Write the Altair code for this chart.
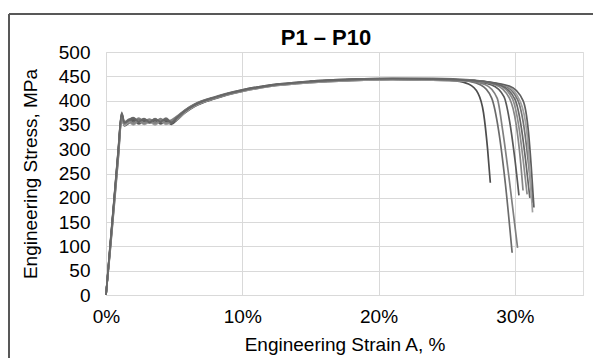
import altair as alt
import pandas as pd

TITLE = "P1 – P10"
SPECIMENS = ["P1", "P2", "P3", "P4", "P5", "P6", "P7", "P8", "P9", "P10"]
GREYS = ["#4d4d4d", "#6b6b6b", "#808080", "#595959", "#8c8c8c",
         "#737373", "#a0a0a0", "#5e5e5e", "#858585", "#666666"]

# shared strain grid (%) for the elastic / plateau / hardening part
STRAIN_BASE = [0, 0.3, 0.6, 0.9, 1.15, 1.35, 1.7, 2.0, 2.4, 2.8, 3.2, 3.6, 4.0,
               4.4, 4.8, 5.2, 5.8, 6.5, 8, 10, 12, 15, 18, 21, 24]

STRESS_BASE = [
    [0, 98, 196, 295, 372, 352, 360, 355, 362, 356, 360, 354, 361, 355, 358, 366, 380, 392, 407, 421, 431, 439, 443, 445, 444],
    [0, 92, 188, 285, 365, 350, 356, 362, 354, 360, 357, 363, 355, 359, 353, 362, 377, 389, 405, 420, 430, 438, 442, 444, 443],
    [0, 102, 200, 300, 376, 355, 362, 357, 364, 358, 362, 356, 363, 357, 360, 368, 381, 393, 408, 422, 432, 440, 444, 446, 445],
    [0, 95, 192, 290, 368, 348, 354, 359, 352, 358, 355, 360, 352, 357, 351, 360, 375, 388, 404, 419, 429, 437, 441, 443, 442],
    [0, 88, 182, 280, 362, 351, 358, 353, 360, 354, 359, 352, 360, 353, 357, 364, 378, 390, 406, 420, 430, 438, 442, 444, 443],
    [0, 100, 198, 298, 374, 356, 361, 365, 358, 363, 357, 362, 358, 364, 356, 366, 380, 392, 407, 422, 432, 440, 444, 446, 446],
    [0, 90, 186, 283, 366, 349, 355, 350, 357, 351, 356, 350, 357, 351, 355, 361, 376, 389, 405, 419, 429, 437, 441, 443, 442],
    [0, 96, 194, 292, 370, 353, 359, 363, 356, 361, 354, 360, 356, 361, 354, 363, 378, 391, 406, 421, 431, 439, 443, 445, 444],
    [0, 94, 190, 288, 368, 352, 357, 352, 359, 353, 358, 353, 359, 354, 356, 364, 379, 391, 406, 420, 430, 438, 442, 444, 443],
    [0, 99, 197, 296, 373, 354, 360, 364, 357, 362, 356, 361, 357, 362, 355, 365, 379, 391, 407, 421, 431, 439, 443, 445, 444],
]

# necking and fracture part of each curve
TAIL_STRAIN = [
    [25.5, 26.6, 27.3, 27.7, 28.0, 28.2],
    [26.0, 27.5, 28.3, 28.8, 29.3, 29.8],
    [26.0, 27.8, 28.7, 29.1, 29.6, 30.2],
    [26.5, 28.3, 29.2, 29.6, 30.0, 30.3],
    [27.0, 28.8, 29.8, 30.3, 30.6, 30.9],
    [27.0, 29.2, 30.2, 30.7, 31.0, 31.3],
    [27.0, 29.4, 30.4, 30.9, 31.1, 31.3],
    [27.0, 29.6, 30.6, 31.0, 31.2, 31.4],
    [26.5, 28.6, 29.6, 30.1, 30.4, 30.6],
    [27.0, 29.0, 30.0, 30.5, 30.8, 31.1],
]
TAIL_STRESS = [
    [441, 434, 415, 375, 300, 231],
    [442, 432, 405, 340, 230, 87],
    [442, 433, 405, 340, 235, 97],
    [441, 432, 408, 360, 280, 205],
    [441, 432, 405, 345, 280, 207],
    [442, 431, 402, 340, 270, 190],
    [440, 430, 398, 330, 250, 170],
    [441, 430, 400, 335, 265, 180],
    [442, 432, 405, 350, 280, 215],
    [441, 431, 403, 340, 275, 200],
]

X_TICKS = [0, 0.1, 0.2, 0.3]
Y_TICKS = list(range(0, 501, 50))

rows = []
for s, name in enumerate(SPECIMENS):
    xs = STRAIN_BASE + TAIL_STRAIN[s]
    ys = STRESS_BASE[s] + TAIL_STRESS[s]
    for i, (x, y) in enumerate(zip(xs, ys)):
        rows.append({"spec": name, "strain": x / 100.0, "stress": y, "idx": i})
df = pd.DataFrame(rows)

FONT = "Liberation Sans"

lines = alt.Chart(df).mark_line(strokeWidth=1.7, interpolate="monotone").encode(
    x=alt.X("strain:Q",
            scale=alt.Scale(domain=[0, 0.35], nice=False),
            axis=alt.Axis(values=X_TICKS, format=".0%", title="Engineering Strain A, %",
                          grid=True, gridColor="#d9d9d9", domainColor="#d9d9d9",
                          ticks=False, labelPadding=12, labelFontSize=19, labelFlush=False,
                          titleFontSize=19, titleFontWeight="normal",
                          titleY=55, titleBaseline="alphabetic")),
    y=alt.Y("stress:Q",
            scale=alt.Scale(domain=[0, 500], nice=False),
            axis=alt.Axis(values=Y_TICKS, title="Engineering Stress, MPa",
                          grid=True, gridColor="#d9d9d9", domain=False,
                          ticks=False, labelPadding=16, labelFontSize=19, labelFlush=False,
                          titleFontSize=19, titleFontWeight="normal",
                          titleX=-70, titleY=121.5, titleAngle=-90,
                          titleBaseline="alphabetic", titleAlign="center")),
    color=alt.Color("spec:N", scale=alt.Scale(domain=SPECIMENS, range=GREYS), legend=None),
    detail="spec:N",
    order=alt.Order("idx:Q"),
)

title_text = alt.Chart(pd.DataFrame({"t": [TITLE]})).mark_text(
    font=FONT, fontSize=22, fontWeight="bold", color="#000000",
    align="center", baseline="alphabetic",
).encode(x=alt.value(220), y=alt.value(-7), text="t:N")

border_left = alt.Chart(df).mark_rule(color="#595959", strokeWidth=1.5).encode(
    x=alt.value(-97), y=alt.value(-38), y2=alt.value(330))
border_top = alt.Chart(df).mark_rule(color="#595959", strokeWidth=1.5).encode(
    x=alt.value(-97), x2=alt.value(520), y=alt.value(-38))

chart = alt.layer(lines, title_text, border_left, border_top).properties(
    width=477, height=243,
    autosize=alt.AutoSizeParams(type="none"),
    padding={"left": 98, "top": 44, "right": 10, "bottom": 63},
).configure_view(stroke=None).configure_axis(
    labelFont=FONT, titleFont=FONT, labelColor="#000000", titleColor="#000000",
).configure(background="#ffffff")

chart.save("out.html", embed_options={"renderer": "svg", "actions": False})
